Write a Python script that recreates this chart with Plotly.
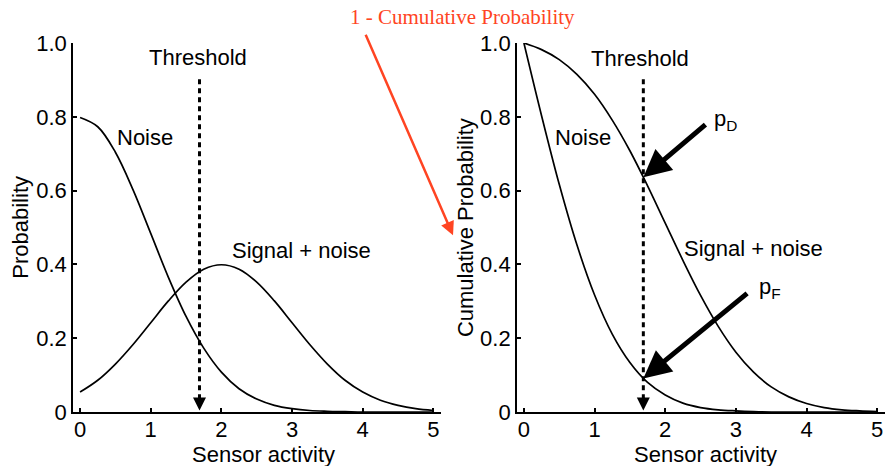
import plotly.graph_objects as go
from plotly.subplots import make_subplots

# ---- data ----
sensor = [0, 0.25, 0.5, 0.75, 1, 1.25, 1.5, 1.75, 2, 2.25, 2.5, 2.75, 3,
          3.25, 3.5, 3.75, 4, 4.25, 4.5, 4.75, 5]
noise_pdf = [0.798, 0.773, 0.704, 0.602, 0.484, 0.365, 0.259, 0.173, 0.108, 0.063,
             0.035, 0.018, 0.009, 0.004, 0.002, 0.001, 0.000, 0.000, 0.000, 0.000, 0.000]
signal_pdf = [0.054, 0.086, 0.130, 0.183, 0.242, 0.301, 0.352, 0.387, 0.399, 0.387,
              0.352, 0.301, 0.242, 0.183, 0.130, 0.086, 0.054, 0.032, 0.018, 0.009, 0.004]
noise_cum = [1.000, 0.803, 0.617, 0.453, 0.317, 0.211, 0.134, 0.080, 0.046, 0.024,
             0.012, 0.006, 0.003, 0.001, 0.000, 0.000, 0.000, 0.000, 0.000, 0.000, 0.000]
signal_cum = [1.000, 0.982, 0.955, 0.915, 0.861, 0.791, 0.708, 0.613, 0.512, 0.411,
              0.316, 0.232, 0.162, 0.108, 0.068, 0.041, 0.023, 0.012, 0.006, 0.003, 0.001]
threshold = 1.69
threshold_top = 0.902
p_D = 0.636
p_F = 0.091
x_ticks = [0, 1, 2, 3, 4, 5]
y_ticks = [0, 0.2, 0.4, 0.6, 0.8, 1.0]
y_ticktext = ["0", "0.2", "0.4", "0.6", "0.8", "1.0"]

FONT = "Arial, Liberation Sans, Helvetica, sans-serif"
FS = 22

fig = make_subplots(rows=1, cols=2, horizontal_spacing=0.0932)

def curve(x, y, col):
    fig.add_trace(go.Scatter(x=x, y=y, mode="lines", line=dict(color="black", width=1.7, shape="spline"),
                             hoverinfo="skip", showlegend=False), row=1, col=col)

curve(sensor, noise_pdf, 1)
curve(sensor, signal_pdf, 1)
curve(sensor, noise_cum, 2)
curve(sensor, signal_cum, 2)

for col in (1, 2):
    fig.add_trace(go.Scatter(x=[threshold, threshold], y=[threshold_top, 0.03], mode="lines",
                             line=dict(color="black", width=3, dash="5px,4px"),
                             hoverinfo="skip", showlegend=False), row=1, col=col)

axis_common = dict(showline=True, linecolor="black", linewidth=1.6, ticks="inside", ticklen=4,
                   tickwidth=1.5, tickcolor="black", showgrid=False, zeroline=False,
                   tickfont=dict(family=FONT, size=FS, color="black"))
for col in (1, 2):
    fig.update_xaxes(range=[-0.1, 5.11], tickvals=x_ticks, ticklabelstandoff=-3,
                     **axis_common, row=1, col=col)
    fig.update_yaxes(range=[0, 1.0], tickvals=y_ticks, ticktext=y_ticktext, **axis_common, row=1, col=col)

anns = []
def label(text, x, y, xref, yref, **kw):
    d = dict(text=text, x=x, y=y, xref=xref, yref=yref, showarrow=False,
             xanchor="center", yanchor="middle",
             font=dict(family=FONT, size=FS, color="black"))
    d.update(kw)
    anns.append(d)

label("Threshold", 1.67, 0.962, "x", "y")
label("Noise", 0.92, 0.745, "x", "y")
label("Signal + noise", 3.13, 0.438, "x", "y")
label("Threshold", 1.64, 0.959, "x2", "y2")
label("Noise", 0.83, 0.745, "x2", "y2")
label("Signal + noise", 3.25, 0.443, "x2", "y2")
label("p<sub>D</sub>", 2.66, 0.79, "x2", "y2", xanchor="left")
label("p<sub>F</sub>", 3.30, 0.335, "x2", "y2", xanchor="left")

# axis titles
label("Probability", -0.065, 0.5, "paper", "paper", textangle=-90)
label("Cumulative Probability", 0.4835, 0.5, "paper", "paper", textangle=-90)
label("Sensor activity", 0.234, -0.115, "paper", "paper")
label("Sensor activity", 0.779, -0.115, "paper", "paper")

# red annotation
anns.append(dict(text="1 - Cumulative Probability", x=0.480, y=1.0705, xref="paper", yref="paper",
                 xanchor="center", yanchor="middle", showarrow=False,
                 font=dict(family="Liberation Serif, Times New Roman, serif", size=21, color="#FF4422")))
anns.append(dict(text="", x=0.468, y=0.479, xref="paper", yref="paper", ax=-88, ay=-202,
                 showarrow=True, arrowhead=2, arrowwidth=2.5, arrowsize=1.1, arrowcolor="#FF4422",
                 standoff=0))

# black arrows to pD and pF
anns.append(dict(text="", x=threshold, y=p_D, xref="x2", yref="y2", ax=2.59, ay=0.782,
                 axref="x2", ayref="y2", showarrow=True, arrowhead=2, arrowwidth=5, arrowsize=1.1,
                 arrowcolor="black", standoff=0))
anns.append(dict(text="", x=threshold, y=p_F, xref="x2", yref="y2", ax=3.18, ay=0.325,
                 axref="x2", ayref="y2", showarrow=True, arrowhead=2, arrowwidth=5, arrowsize=1.1,
                 arrowcolor="black", standoff=0))

# threshold arrowheads
for xr, yr in (("x", "y"), ("x2", "y2")):
    anns.append(dict(text="", x=threshold, y=0.004, xref=xr, yref=yr, ax=threshold, ay=0.045,
                     axref=xr, ayref=yr, showarrow=True, arrowhead=2, arrowwidth=2, arrowsize=1.3,
                     arrowcolor="black", standoff=0))

fig.update_layout(width=889, height=466, margin=dict(l=73, r=4, t=43, b=54),
                  paper_bgcolor="white", plot_bgcolor="white", annotations=anns,
                  font=dict(family=FONT, size=FS, color="black"))

fig.write_html("out.html")
